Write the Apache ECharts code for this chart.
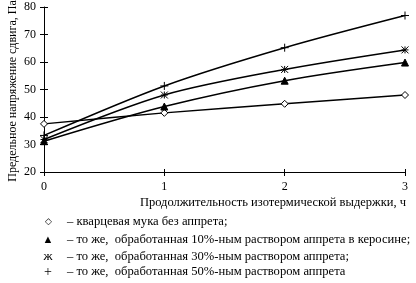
<!DOCTYPE html>
<html>
<head>
<meta charset="utf-8">
<script src="https://cdn.jsdelivr.net/npm/echarts@6/dist/echarts.min.js"></script>
<style>html,body{margin:0;padding:0;background:#fff}</style>
</head>
<body>
<div id="main" style="width:416px;height:283px;"></div>
<script type="text/javascript">
    // данные
    var hours = [0, 1, 2, 3];
    var noSizing = [37.5, 41.5, 44.8, 48.0];      // без аппрета
    var sizing10 = [31.2, 43.8, 53.2, 59.8];      // 10% в керосине
    var sizing30 = [31.8, 48.0, 57.3, 64.4];      // 30%
    var sizing50 = [33.3, 51.3, 65.2, 76.9];      // 50%
    var yTicks = [20, 80, 10];
    var legendTexts = [
        ['\u25C7', '\u2013 кварцевая мука без аппрета;'],
        ['\u25B2', '\u2013 то же,  обработанная 10%-ным раствором аппрета в керосине;'],
        ['\u0436', '\u2013 то же,  обработанная 30%-ным раствором аппрета;'],
        ['+', '\u2013 то же,  обработанная 50%-ным раствором аппрета']
    ];

    var font = '"Liberation Serif", "Times New Roman", serif';
    var myChart = echarts.init(document.getElementById('main'));

    function pairs(arr) {
        return hours.map(function (h, i) { return [h, arr[i]]; });
    }

    var starPath = 'path://M0,0L10,10M10,0L0,10M5,0L5,10M0,5L10,5';
    var plusPath = 'path://M5,0L5,10M0,5L10,5';

    function mkSeries(name, arr, symbol, size, fill) {
        return {
            type: 'line',
            name: name,
            data: pairs(arr),
            smooth: 0.3,
            symbol: symbol,
            symbolSize: size,
            showAllSymbol: true,
            lineStyle: { color: '#000', width: 1.5 },
            itemStyle: { color: fill, borderColor: '#000', borderWidth: 1 },
            z: 3
        };
    }

    var axisLine = { lineStyle: { color: '#000', width: 1 } };

    var option = {
        animation: false,
        textStyle: { fontFamily: font },
        grid: { left: 44, right: 11, top: 7, bottom: 111 },
        xAxis: [{
            type: 'value', min: 0, max: 3, interval: 1,
            axisLine: axisLine,
            axisTick: { show: true, length: 4, lineStyle: { color: '#000' } },
            axisLabel: { color: '#000', fontFamily: font, fontSize: 12, margin: 9 },
            splitLine: { show: false }
        }, {
            type: 'value', min: 0, max: 3, interval: 1, position: 'bottom',
            axisLine: { show: false },
            axisTick: { show: true, inside: true, length: 3, lineStyle: { color: '#000' } },
            axisLabel: { show: false },
            splitLine: { show: false }
        }],
        yAxis: [{
            type: 'value', min: yTicks[0], max: yTicks[1], interval: yTicks[2],
            axisLine: { show: true, lineStyle: { color: '#000', width: 1 } },
            axisTick: { show: true, length: 4, lineStyle: { color: '#000' } },
            axisLabel: { color: '#000', fontFamily: font, fontSize: 12, margin: 8 },
            splitLine: { show: false }
        }, {
            type: 'value', min: yTicks[0], max: yTicks[1], interval: yTicks[2], position: 'left',
            axisLine: { show: false },
            axisTick: { show: true, inside: true, length: 4, lineStyle: { color: '#000' } },
            axisLabel: { show: false },
            splitLine: { show: false }
        }],
        series: [
            mkSeries('noSizing', noSizing, 'diamond', 7, '#fff'),
            mkSeries('sizing10', sizing10, 'triangle', 7, '#000'),
            mkSeries('sizing30', sizing30, starPath, 7, '#000'),
            mkSeries('sizing50', sizing50, plusPath, 8, '#000')
        ],
        graphic: [{
            type: 'text', x: 13, y: 91, rotation: Math.PI / 2,
            style: {
                text: 'Предельное напряжение сдвига, Па',
                font: '12px ' + font, fill: '#000',
                align: 'center', verticalAlign: 'middle'
            }
        }, {
            type: 'text', x: 406, y: 203,
            style: {
                text: 'Продолжительность изотермической выдержки, ч',
                font: '12.5px ' + font, fill: '#000',
                align: 'right', verticalAlign: 'middle'
            }
        }]
    };

    var rowY = [222, 240, 257, 272];
    var symFont = ['9px ', '11px ', '13px ', '14px '];
    legendTexts.forEach(function (row, i) {
        option.graphic.push({
            type: 'text', x: 48, y: rowY[i],
            style: { text: row[0], font: symFont[i] + font, fill: '#000', align: 'center', verticalAlign: 'middle' }
        });
        option.graphic.push({
            type: 'text', x: 67, y: rowY[i],
            style: { text: row[1], font: '12.6px ' + font, fill: '#000', align: 'left', verticalAlign: 'middle' }
        });
    });

    myChart.setOption(option);
</script>
</body>
</html>
